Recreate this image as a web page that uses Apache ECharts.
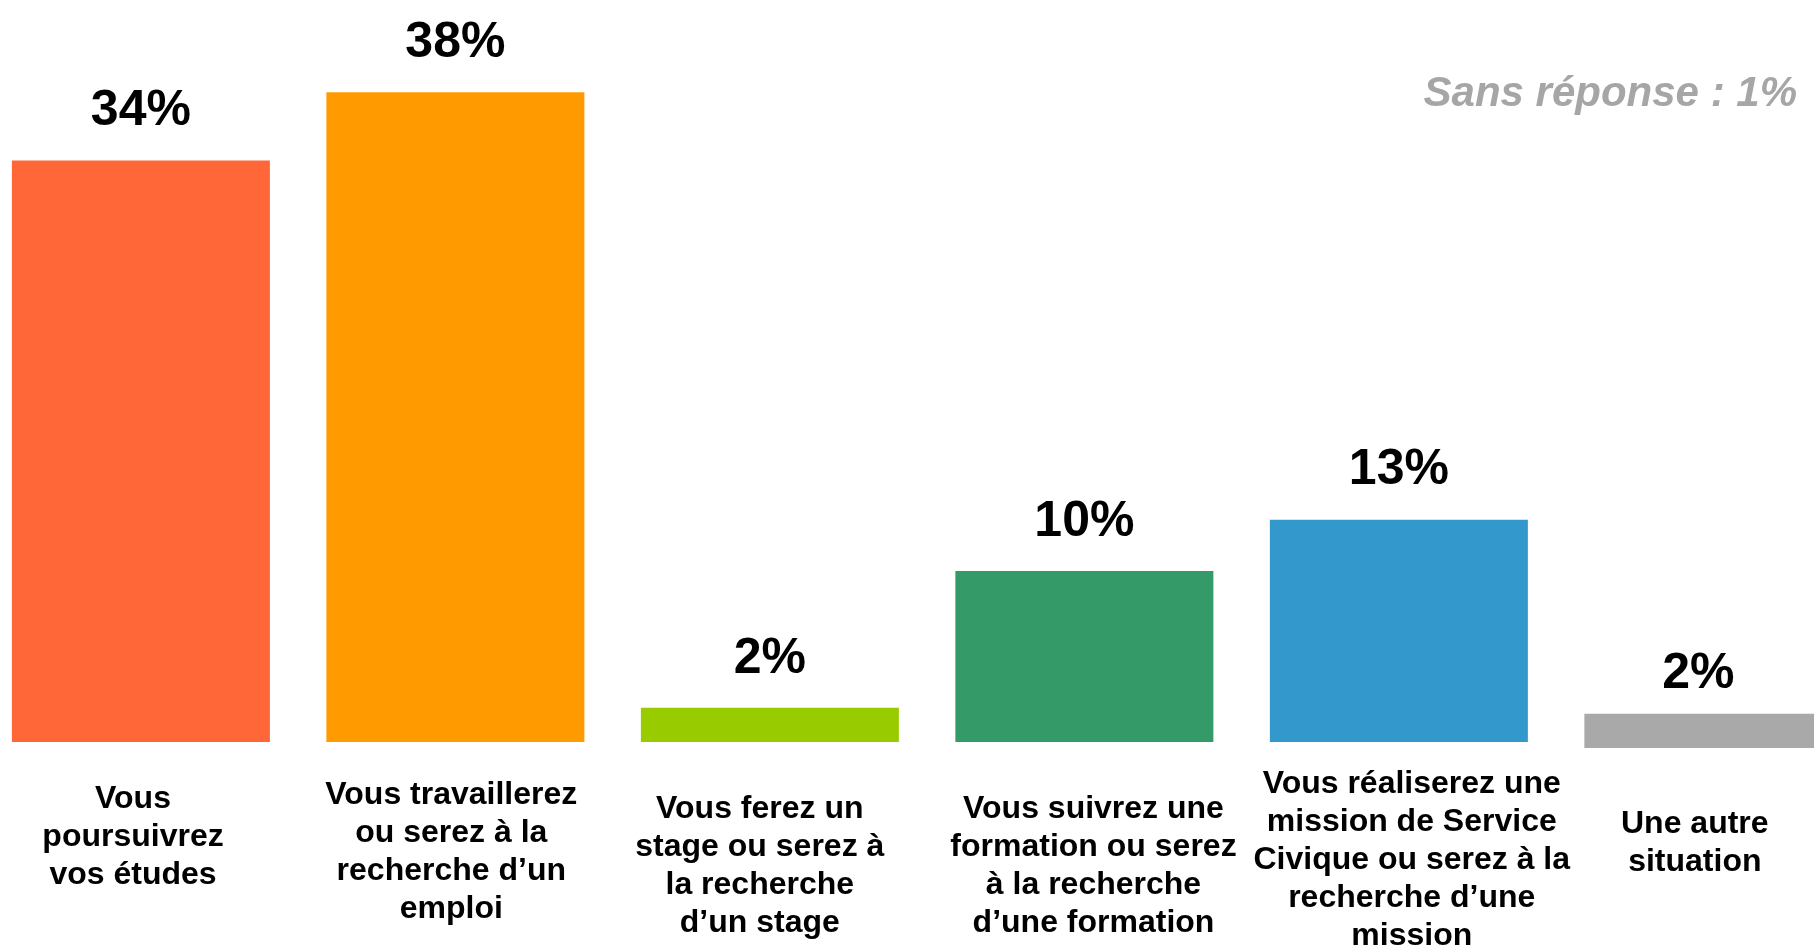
<!DOCTYPE html>
<html>
<head>
<meta charset="utf-8">
<title>Situation</title>
<script src="https://cdn.jsdelivr.net/npm/echarts@6/dist/echarts.min.js"></script>
<style>
  html, body { margin: 0; padding: 0; background: #fff; }
  #chart { width: 1814px; height: 950px; }
</style>
</head>
<body>
<div id="chart"></div>
<script>
// categories (line breaks as in the original)
var categories = [
  'Vous\npoursuivrez\nvos études',
  'Vous travaillerez\nou serez à la\nrecherche d\u2019un\nemploi',
  'Vous ferez un\nstage ou serez à\nla recherche\nd\u2019un stage',
  'Vous suivrez une\nformation ou serez\nà la recherche\nd\u2019une formation',
  'Vous réaliserez une\nmission de Service\nCivique ou serez à la\nrecherche d\u2019une\nmission',
  'Une autre\nsituation'
]
var values = [34, 38, 2, 10, 13, 2]
var barColors = ['#FF6739', '#FF9A00', '#99CC00', '#339A68', '#3399CC', '#A9A9A9']
var noteText = 'Sans réponse : 1%'

var chart = echarts.init(document.getElementById('chart'))

// the plot is wider than the page (last bar cut off), so the x axis is a
// value axis over category indices with a window that starts left of 0
var xMin = -0.448
var xMax = 5.32

// labels in the original sit at slightly different places
var labelPadTop = [25, 21, 35, 35, 10, 50]
var labelShift = [-0.025, -0.013, -0.032, 0.029, 0.041, -0.059]

var rich = {}
labelPadTop.forEach(function (p, i) {
  rich['g' + i] = { fontSize: 1, lineHeight: p, height: p }
})

var last = values.length - 1
var barLabel = {
  show: true,
  position: 'top',
  distance: 24,
  formatter: function (p) { return p.value[1] + '%' },
  fontFamily: 'Liberation Sans, Arial, sans-serif',
  fontWeight: 'bold',
  fontSize: 50,
  color: '#000'
}

function barData(keep) {
  return values.map(function (v, i) {
    if (!keep(i)) return '-'
    return { value: [i, v], itemStyle: { color: barColors[i] } }
  })
}

chart.setOption({
  animation: false,
  title: {
    text: noteText,
    right: 12,
    top: 68,
    textStyle: {
      fontFamily: 'Liberation Sans, Arial, sans-serif',
      fontSize: 42,
      fontStyle: 'italic',
      fontWeight: 'bold',
      color: '#A6A6A6'
    }
  },
  grid: {
    left: 0,
    right: 0,
    top: 58,
    bottom: 208,
    outerBoundsMode: 'none'
  },
  xAxis: {
    type: 'value',
    min: xMin,
    max: xMax,
    splitLine: { show: false },
    axisLine: { show: false },
    axisTick: { show: false },
    axisLabel: {
      customValues: categories.map(function (c, i) { return i + labelShift[i] }),
      margin: 13,
      verticalAlign: 'top',
      fontFamily: 'Liberation Sans, Arial, sans-serif',
      fontWeight: 'bold',
      fontSize: 32,
      lineHeight: 38,
      color: '#000',
      rich: rich,
      formatter: function (v) {
        var i = Math.round(v)
        return '{g' + i + '| }\n' + categories[i]
      }
    }
  },
  yAxis: [
    { type: 'value', min: 0, max: 40, show: false, splitLine: { show: false } },
    // the last bar sits a few pixels lower in the original
    { type: 'value', min: 0.35, max: 40.35, show: false, splitLine: { show: false } }
  ],
  series: [{
    type: 'bar',
    barWidth: 258,
    barGap: '-100%',
    data: barData(function (i) { return i !== last }),
    label: barLabel
  }, {
    type: 'bar',
    yAxisIndex: 1,
    barWidth: 258,
    barGap: '-100%',
    clip: false,
    data: barData(function (i) { return i === last }),
    label: Object.assign({}, barLabel, { distance: 15, offset: [-15, 0] })
  }]
})
</script>
</body>
</html>
